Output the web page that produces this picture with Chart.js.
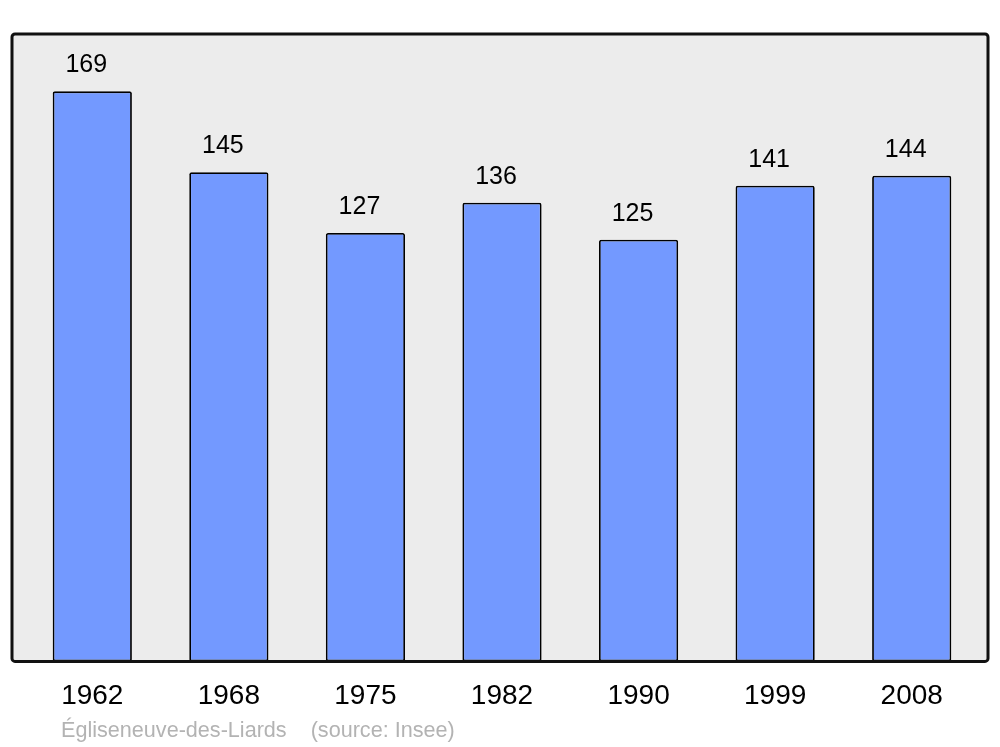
<!DOCTYPE html>
<html>
<head>
<meta charset="utf-8">
<script src="https://cdn.jsdelivr.net/npm/chart.js@4"></script>
<style>
  body { margin: 0; background: #fff; }
  #wrap { position: absolute; left: 0; top: 0; width: 1000px; height: 747px; }
  #source {
    position: absolute; left: 61px; top: 717px;
    font-family: "Liberation Sans", Arial, sans-serif; font-size: 21.6px; color: #b3b3b3;
    white-space: pre;
  }
</style>
</head>
<body>
<div id="wrap">
  <canvas id="popChart" width="1000" height="747"></canvas>
  <div id="source">Égliseneuve-des-Liards    (source: Insee)</div>
</div>
<script>
var years = ['1962', '1968', '1975', '1982', '1990', '1999', '2008'];
var population = [169, 145, 127, 136, 125, 141, 144];

// grey box behind the bars, black frame on top
var framePlugin = {
  id: 'frame',
  beforeDatasetsDraw: function(chart) {
    var ctx = chart.ctx, a = chart.chartArea;
    ctx.save();
    ctx.beginPath();
    ctx.roundRect(12, a.top, 976, a.bottom - a.top, 3);
    ctx.fillStyle = '#ececec';
    ctx.fill();
    ctx.restore();
  },
  afterDatasetsDraw: function(chart) {
    var ctx = chart.ctx, a = chart.chartArea;
    ctx.save();
    ctx.beginPath();
    ctx.roundRect(12, a.top, 976, a.bottom - a.top, 3);
    ctx.lineWidth = 3;
    ctx.strokeStyle = '#111';
    ctx.stroke();

    // value labels above bars
    var meta = chart.getDatasetMeta(0);
    ctx.fillStyle = '#000';
    ctx.font = '25px "Liberation Sans", Arial, sans-serif';
    ctx.textAlign = 'center';
    ctx.textBaseline = 'middle';
    meta.data.forEach(function(bar, i) {
      ctx.fillText(population[i], bar.x - 6, bar.y - 26);
    });
    ctx.restore();
  }
};

var ctx = document.getElementById('popChart').getContext('2d');
var chart = new Chart(ctx, {
  type: 'bar',
  data: {
    labels: years,
    datasets: [{
      data: population,
      backgroundColor: '#7399ff',
      borderColor: '#000',
      borderWidth: 1.8,
      borderRadius: 2,
      borderSkipped: false,
      categoryPercentage: 1,
      barPercentage: 0.58
    }]
  },
  options: {
    responsive: false,
    animation: false,
    layout: { padding: { left: 24, right: 20, top: 34, bottom: 24 } },
    plugins: {
      legend: { display: false },
      tooltip: { enabled: false }
    },
    scales: {
      x: {
        grid: { display: false },
        border: { display: false },
        ticks: {
          color: '#000',
          padding: 10,
          font: { family: '"Liberation Sans", Arial, sans-serif', size: 28 }
        }
      },
      y: {
        display: false,
        min: 0,
        max: 186
      }
    }
  },
  plugins: [framePlugin]
});
</script>
</body>
</html>
